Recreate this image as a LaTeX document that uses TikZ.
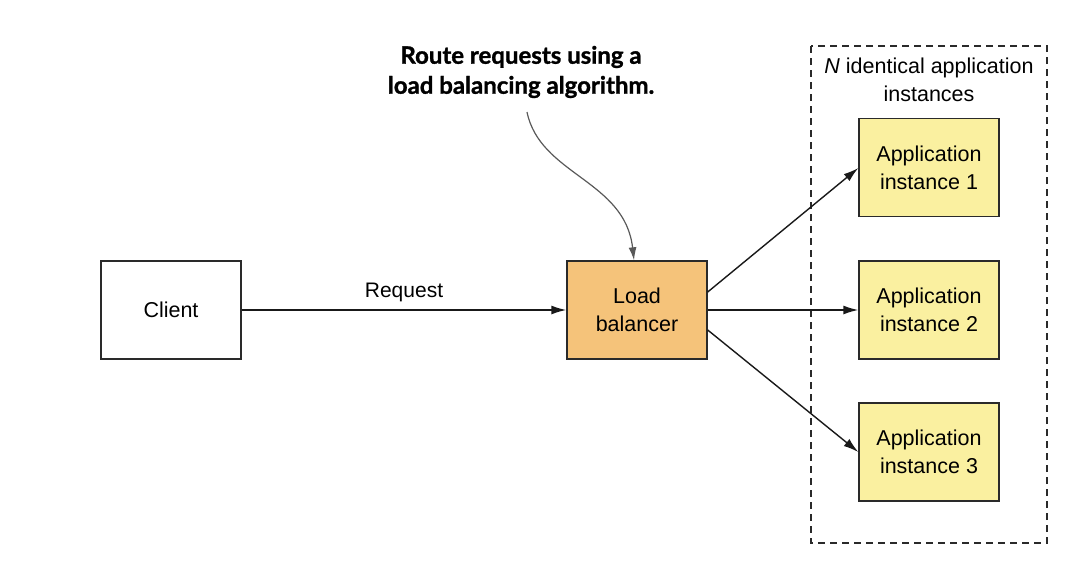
\documentclass[tikz,border=0pt]{standalone}
\usepackage{fontspec}
\setmainfont{Liberation Sans}
\newfontfamily\notefont[BoldFeatures={FakeBold=1.2}]{Lato}
\usetikzlibrary{arrows.meta}
\definecolor{lbfill}{HTML}{F5C37A}
\definecolor{appfill}{HTML}{FAF0A0}
\definecolor{edge}{HTML}{2A2A2A}
\tikzset{
  box/.style={draw=edge, line width=1.4pt, minimum width=140pt, minimum height=98pt,
    align=center, inner sep=0pt, font=\fontsize{21.5}{28}\selectfont},
  conn/.style={line width=1.4pt, draw=black!90, -{Latex[length=15pt,width=9pt]}},
}
\begin{document}
\begin{tikzpicture}[x=1pt,y=-1pt]
\useasboundingbox (0,0) rectangle (1092,568);
\node[box, fill=white] (client) at (171,310) {Client};
\node[box, fill=lbfill] (lb) at (637,310) {Load\\balancer};
\node[box, fill=appfill] (app1) at (929,167.5) {Application\\instance 1};
\node[box, fill=appfill] (app2) at (929,310) {Application\\instance 2};
\node[box, fill=appfill] (app3) at (929,452) {Application\\instance 3};
\draw[edge, line width=1.3pt, dash pattern=on 7pt off 5pt] (811,46) rectangle (1047,543);
\node[align=center, font=\fontsize{21.5}{28}\selectfont] (title) at (929,80) {\textit{N} identical application\\instances};
\node[align=center, font=\notefont\bfseries\fontsize{24}{30}\selectfont] (note) at (521,72) {Route requests using a\\load balancing algorithm.};
\coordinate (ns) at (527,112);
\draw[gray!70!black, line width=1.2pt, -{Latex[length=13pt,width=8pt]}] (ns) .. controls (540,175) and (625,180) .. (lb.north -| 634,0);
\draw[conn] (client) -- node[above=4pt, font=\fontsize{21}{24}\selectfont] (req) {Request} (lb);
\draw[conn] (lb.east |- 0,292) -- (app1.west |- 0,168);
\draw[conn] (lb) -- (app2);
\draw[conn] (lb.east |- 0,330) -- (app3.west |- 0,452);
\end{tikzpicture}
\end{document}
